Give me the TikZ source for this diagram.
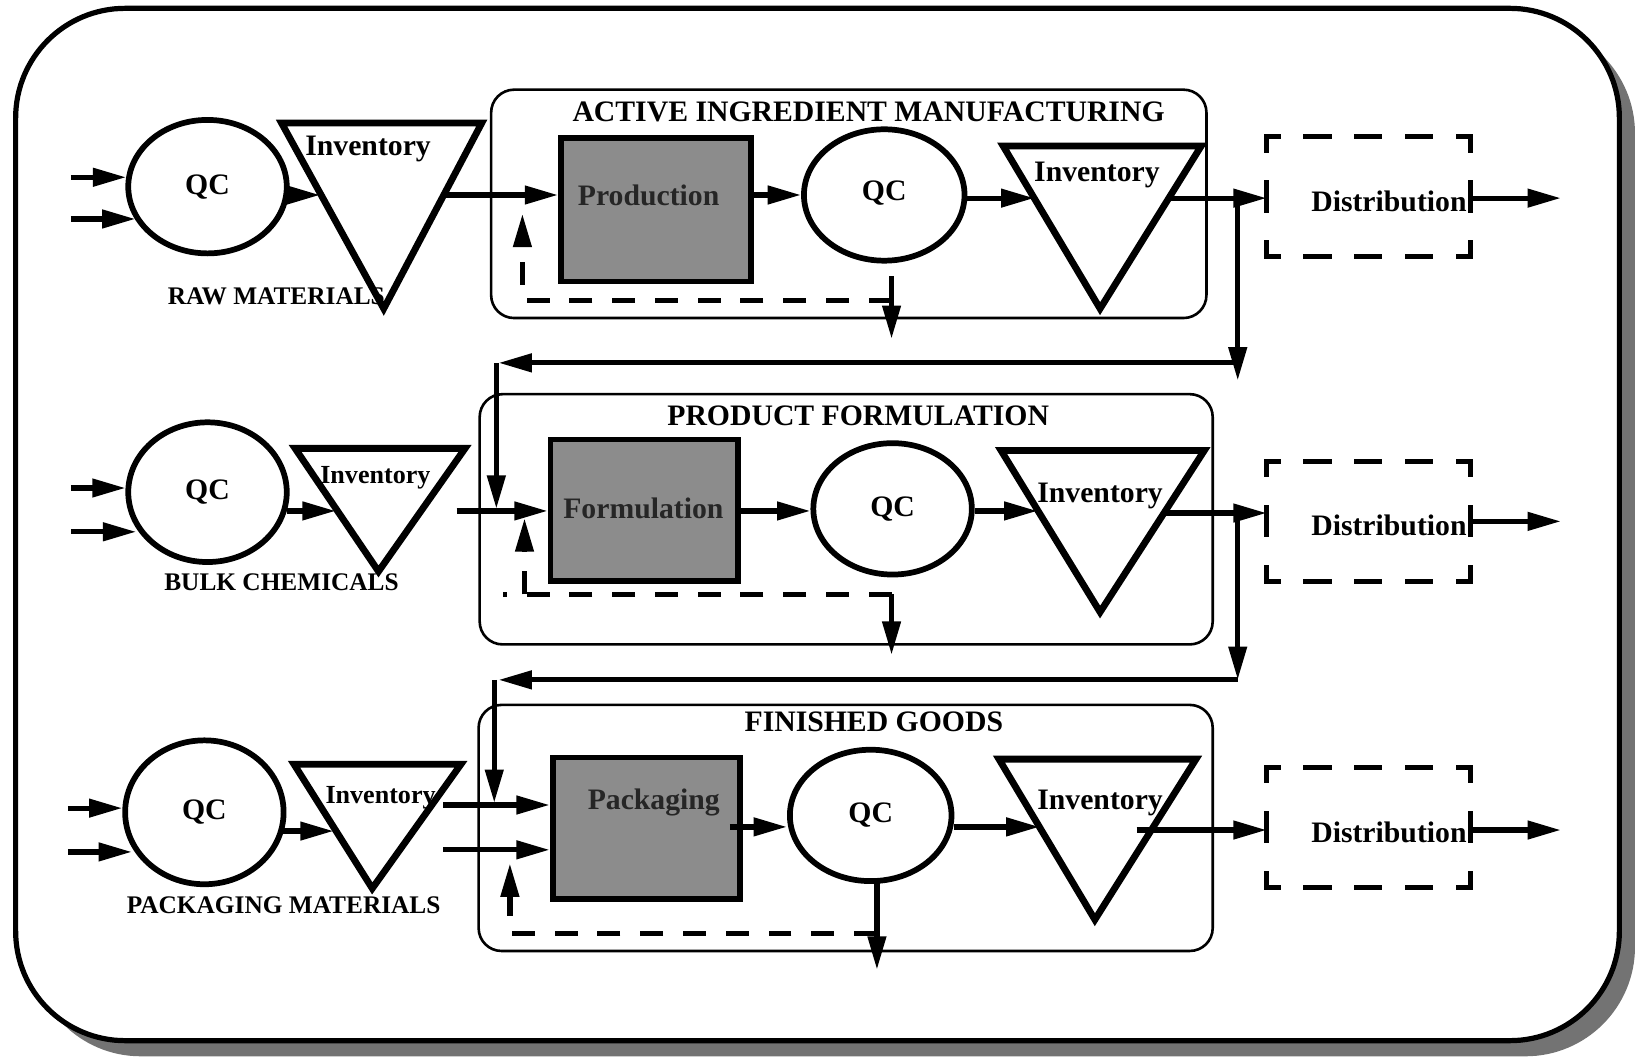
\documentclass[tikz,border=0pt]{standalone}
\usepackage{fontspec}
\setmainfont{Liberation Serif}
\usetikzlibrary{arrows.meta,shapes.geometric}

\begin{document}
\begin{tikzpicture}[x=1pt,y=-1pt,
  big/.style={font=\fontsize{28.5}{30}\selectfont\bfseries, inner sep=0pt},
  mid/.style={font=\fontsize{25}{27}\selectfont\bfseries, inner sep=0pt},
  matlbl/.style={font=\fontsize{24.3}{26}\selectfont\bfseries, inner sep=0pt},
  qc/.style={draw, ellipse, line width=5.5pt, inner sep=0pt, big},
  tri/.style={line width=6.5pt, line join=miter},
  stage/.style={draw, line width=2.5pt, rounded corners=22pt, inner sep=0pt},
  proc/.style={draw, line width=5.5pt, fill=black!45, inner sep=0pt,
               minimum width=180pt, minimum height=136pt},
  tip/.style={-{Triangle[length=32pt,width=17pt]}},
  flow/.style={line width=5pt, tip},
  rework/.style={line width=5pt, dash pattern=on 22pt off 19pt},
  dist/.style={inner sep=0pt, minimum width=195pt, minimum height=115pt},
  hdash/.style={line width=5pt, line cap=rect, dash pattern=on 22pt off 26.75pt, dash phase=11pt},
  vdash/.style={line width=5pt, line cap=rect, dash pattern=on 26pt off 31.5pt, dash phase=13pt},
]
\useasboundingbox (0,0) rectangle (1568,1017);

% outer frame with its drop shadow
\fill[black!55, rounded corners=105pt] (30,23) rectangle (1568,1013);
\draw[line width=5pt, fill=white, rounded corners=105pt] (15,8) rectangle (1553,998);

% ---------- stage frames ----------
\node[stage, minimum width=686pt, minimum height=219pt] (stA) at (814,195.5) {};
\node[stage, minimum width=703pt, minimum height=240pt] (stB) at (811.5,498) {};
\node[stage, minimum width=704pt, minimum height=236pt] (stC) at (811,794) {};
\node[big] (ttlA) at (833,107) {ACTIVE INGREDIENT MANUFACTURING};
\node[big] (ttlB) at (823,399) {PRODUCT FORMULATION};
\node[big] (ttlC) at (838,692) {FINISHED GOODS};

% ---------- row 1: raw materials / active ingredient ----------
\node[qc, minimum width=152pt, minimum height=128pt] (qcA) at (199,179) {QC};
\coordinate (iAl) at (270,118); \coordinate (iAr) at (462,118); \coordinate (iAb) at (368,296);
\draw[tri] (iAl) -- (iAr) -- (iAb) -- cycle;
\node[big] (invA) at (353,143) {Inventory};
\node[matlbl] (rawA) at (265,284) {RAW MATERIALS};

\node[proc, minimum width=182pt, minimum height=138pt] (prodA) at (629,201) {};
\node[big, text=black!85] (prodAt) at (622,187) {Production};
\node[qc, minimum width=154pt, minimum height=126pt] (qcB) at (848,187) {\raisebox{9pt}{QC}};
\coordinate (iBl) at (962,140); \coordinate (iBr) at (1152,140); \coordinate (iBb) at (1055,296);
\draw[tri] (iBl) -- (iBr) -- (iBb) -- cycle;
\node[big] (invB) at (1052,168) {Inventory};
\node[dist] (distA) at (1312.5,188.5) {};
\node[big] (distAt) at (1332,193) {Distribution};

% ---------- row 2: bulk chemicals / formulation ----------
\node[qc, minimum width=152pt, minimum height=134pt] (qcC) at (199,472) {\raisebox{-5pt}{QC}};
\coordinate (iCl) at (283,430); \coordinate (iCr) at (446,430); \coordinate (iCb) at (363,548);
\draw[tri] (iCl) -- (iCr) -- (iCb) -- cycle;
\node[mid] (invC) at (360,458) {Inventory};
\node[matlbl] (rawC) at (270,558) {BULK CHEMICALS};

\node[proc] (prodC) at (618,489.5) {};
\node[big, text=black!85] (prodCt) at (617,488) {Formulation};
\node[qc, minimum width=152pt, minimum height=126pt] (qcD) at (856,488) {QC};
\coordinate (iDl) at (960,432); \coordinate (iDr) at (1155,432); \coordinate (iDb) at (1055,587);
\draw[tri] (iDl) -- (iDr) -- (iDb) -- cycle;
\node[big] (invD) at (1055,476) {Inventory};
\node[dist] (distB) at (1312.5,500) {};
\node[big] (distBt) at (1332,504) {Distribution};

% ---------- row 3: packaging materials / finished goods ----------
\node[qc, minimum width=152pt, minimum height=138pt] (qcE) at (196,779) {QC};
\coordinate (iEl) at (282,733); \coordinate (iEr) at (442,733); \coordinate (iEb) at (357,852);
\draw[tri] (iEl) -- (iEr) -- (iEb) -- cycle;
\node[mid] (invE) at (365,765) {Inventory};
\node[matlbl] (rawE) at (272,868) {PACKAGING MATERIALS};

\node[proc] (prodE) at (620,794.5) {};
\node[big, text=black!85] (prodEt) at (627,770) {Packaging};
\node[qc, minimum width=155pt, minimum height=126pt] (qcF) at (835,782) {QC};
\coordinate (iFl) at (958,728); \coordinate (iFr) at (1147,728); \coordinate (iFb) at (1050,882);
\draw[tri] (iFl) -- (iFr) -- (iFb) -- cycle;
\node[big] (invF) at (1055,770) {Inventory};
\node[dist] (distC) at (1312.5,793.5) {};
\node[big] (distCt) at (1332,798) {Distribution};

% dashed distribution outlines
\foreach \d in {distA,distB,distC}{
  \draw[hdash] (\d.north west) -- (\d.north east);
  \draw[hdash] (\d.south west) -- (\d.south east);
  \draw[vdash] (\d.north west) -- (\d.south west);
  \draw[vdash] (\d.north east) -- (\d.south east);
}

% ---------- flows, row 1 ----------
\coordinate (inA1) at (68,170); \coordinate (inA2) at (68,210);
\draw[flow] (inA1) -- (inA1 -| qcA.173);
\draw[flow] (inA2) -- (inA2 -| qcA.205);
\coordinate (eA) at (307,187);
\draw[flow] (qcA.354 |- eA) -- (eA);
\coordinate (oA) at (425,187);
\draw[flow] (oA) -- (oA -| prodA.west);
\draw[flow] (prodA.east |- oA) -- (qcB.west);
\coordinate (eB) at (992,190);
\draw[flow] (qcB.east |- eB) -- (eB);
\coordinate (oB) at (1121,190);
\draw[flow] (oB) -- (oB -| distA.west);
\coordinate (xA) at (1497,190);
\draw[flow] (distA.east |- xA) -- (xA);
% transfer of active ingredient to formulation
\coordinate (jA) at (1187,190); \coordinate (jA2) at (1187,365);
\draw[flow] (jA) -- (jA2);
\coordinate (hA) at (1187,348); \coordinate (hA2) at (478,348);
\draw[flow] (hA) -- (hA2);
\coordinate (vA) at (476,348); \coordinate (vA2) at (476,488);
\draw[flow] (vA) -- (vA2);
% reject and rework
\coordinate (rA) at (855,265); \coordinate (rA2) at (855,325);
\draw[flow] (rA) -- (rA2);
\coordinate (kA) at (855,288); \coordinate (kA2) at (501,205);
\draw[rework, tip] (kA) -| (kA2);

% ---------- flows, row 2 ----------
\coordinate (inC1) at (68,468); \coordinate (inC2) at (68,510);
\draw[flow] (inC1) -- (inC1 -| qcC.176);
\draw[flow] (inC2) -- (inC2 -| qcC.207);
\coordinate (eC) at (322,490);
\draw[flow] (qcC.346 |- eC) -- (eC);
\coordinate (oC) at (438,490);
\draw[flow] (oC) -- (oC -| prodC.west);
\draw[flow] (prodC.east |- oC) -- (qcD.west |- oC);
\coordinate (eD) at (995,490);
\draw[flow] (qcD.east |- eD) -- (eD);
\coordinate (oD) at (1115,492);
\draw[flow] (oD) -- (oD -| distB.west);
\coordinate (xB) at (1497,500);
\draw[flow] (distB.east |- xB) -- (xB);
% transfer of formulated product to packaging
\coordinate (jB) at (1187,492); \coordinate (jB2) at (1187,652);
\draw[flow] (jB) -- (jB2);
\coordinate (hB) at (1187,652); \coordinate (hB2) at (478,652);
\draw[flow] (hB) -- (hB2);
\coordinate (vB) at (474,652); \coordinate (vB2) at (474,770);
\draw[flow] (vB) -- (vB2);
% reject and rework
\coordinate (rB) at (855,570); \coordinate (rB2) at (855,628);
\draw[flow] (rB) -- (rB2);
\coordinate (kB) at (482,570);
\draw[rework] (rB) -- (kB);
\coordinate (kB1) at (503,570); \coordinate (kB2) at (503,497);
\draw[rework, tip] (kB1) -- (kB2);

% ---------- flows, row 3 ----------
\coordinate (inE1) at (65,775); \coordinate (inE2) at (65,817);
\draw[flow] (inE1) -- (inE1 -| qcE.177);
\draw[flow] (inE2) -- (inE2 -| qcE.206);
\coordinate (eE) at (320,797);
\draw[flow] (qcE.345 |- eE) -- (eE);
\coordinate (oE1) at (425,772); \coordinate (oE2) at (425,815);
\draw[flow] (oE1) -- (oE1 -| prodE.west);
\draw[flow] (oE2) -- (oE2 -| prodE.west);
\coordinate (pE) at (700,793);
\draw[flow] (pE) -- (pE -| qcF.west);
\coordinate (eF) at (997,793);
\draw[flow] (qcF.east |- eF) -- (eF);
\coordinate (oF) at (1090,796);
\draw[flow] (oF) -- (oF -| distC.west);
\coordinate (xC) at (1497,796);
\draw[flow] (distC.east |- xC) -- (xC);
% reject and rework
\coordinate (rE) at (841,845); \coordinate (rE2) at (841,930);
\draw[flow] (rE) -- (rE2);
\coordinate (kE) at (841,895); \coordinate (kE2) at (489,828);
\draw[rework, tip] (kE) -| (kE2);
\end{tikzpicture}
\end{document}
